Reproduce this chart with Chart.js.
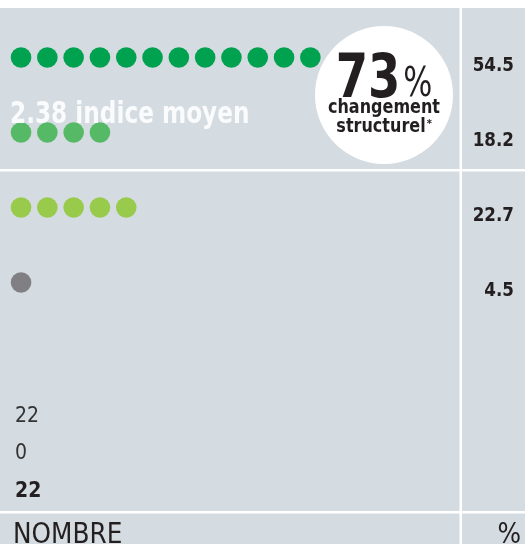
<!DOCTYPE html>
<html>
<head>
<meta charset="utf-8">
<script src="https://cdn.jsdelivr.net/npm/chart.js"></script>
<style>
  html, body { margin: 0; padding: 0; background: #fff; }
  #wrap { position: relative; width: 525px; height: 544px; }
</style>
</head>
<body>
<div id="wrap"><canvas id="chart"></canvas></div>
<script>
// rows of the dot chart, top to bottom
const rowIds = ['row1', 'row2', 'row3', 'row4'];
const counts = [12, 4, 5, 1];
const percents = ['54.5', '18.2', '22.7', '4.5'];
const dotColors = ['#00a14f', '#55b966', '#98ca4b', '#808084'];
const totals = ['22', '0', '22'];
const averageLabel = '2.38 indice moyen';
const bigValue = '73';

const GRAY = '#d4dbe1';
const INK = '#231f20';
const FONT = "'DejaVu Sans Condensed', 'DejaVu Sans', sans-serif";

// draws text squeezed horizontally (the original uses a narrower face)
function text(ctx, str, x, y, spec, sx, align) {
  ctx.save();
  ctx.font = spec + ' ' + FONT;
  ctx.textAlign = align || 'left';
  ctx.translate(x, y);
  ctx.scale(sx, 1);
  ctx.fillText(str, 0, 0);
  const w = ctx.measureText(str).width * sx;
  ctx.restore();
  return w;
}
function width(ctx, str, spec, sx) {
  ctx.save();
  ctx.font = spec + ' ' + FONT;
  const w = ctx.measureText(str).width * sx;
  ctx.restore();
  return w;
}

const datasets = rowIds.map((id, r) => ({
  label: id,
  data: Array.from({ length: counts[r] }, (_, i) => ({ x: i + 1, y: r })),
  backgroundColor: dotColors[r],
  borderWidth: 0,
  pointRadius: 10.3,
  pointHoverRadius: 10.3
}));

const panel = {
  id: 'panel',
  beforeDraw(chart) {
    const { ctx, chartArea: a, width, height } = chart;
    const y = chart.scales.y;
    ctx.save();
    ctx.fillStyle = '#fff';
    ctx.fillRect(0, 0, width, height);
    ctx.fillStyle = GRAY;
    ctx.fillRect(0, a.top, width, height - a.top);
    ctx.fillStyle = '#fff';
    const mid = Math.round(y.getPixelForValue(1.5));
    ctx.fillRect(0, mid - 1, width, 2.5);
    ctx.fillRect(0, a.bottom - 1, width, 2.5);
    ctx.fillRect(a.right - 0.5, a.top, 2.5, height - a.top);
    ctx.restore();
  },
  afterDatasetsDraw(chart) {
    const { ctx, height } = chart;
    const W = chart.width;
    const x = chart.scales.x, y = chart.scales.y;
    ctx.save();
    ctx.textBaseline = 'alphabetic';

    // average label over the dots
    ctx.fillStyle = 'rgba(255,255,255,0.88)';
    text(ctx, averageLabel, 10, 123, 'bold 30px', 0.86);

    // white circle with big number
    const cx = x.getPixelForValue(14.8), cy = y.getPixelForValue(0.5);
    ctx.fillStyle = '#fff';
    ctx.beginPath();
    ctx.arc(cx, cy, 69, 0, Math.PI * 2);
    ctx.fill();

    ctx.fillStyle = INK;
    const wNum = width(ctx, bigValue, 'bold 60px', 0.86);
    const wPct = width(ctx, '%', '40px', 0.85);
    const start = cx - (wNum + wPct + 3) / 2;
    text(ctx, bigValue, start, cy + 2, 'bold 60px', 0.86);
    text(ctx, '%', start + wNum + 3, cy + 1, '40px', 0.85);

    text(ctx, 'changement', cx, cy + 18, 'bold 20px', 0.89, 'center');
    const ws = text(ctx, 'structurel', cx - 3, cy + 37, 'bold 20px', 0.89, 'center');
    text(ctx, '*', cx - 3 + ws / 2 + 1, cy + 32, 'bold 11px', 1);

    // percentages in right column
    percents.forEach((p, r) => {
      text(ctx, p, W - 11, y.getPixelForValue(r) + 13, 'bold 20px', 0.93, 'right');
    });

    // totals
    ctx.fillStyle = '#333';
    text(ctx, totals[0], 15, 422, '21px', 1);
    text(ctx, totals[1], 15, 459, '21px', 1);
    ctx.fillStyle = INK;
    text(ctx, totals[2], 15, 497, 'bold 21px', 1);

    // footer
    text(ctx, 'NOMBRE', 13, height - 1, '29px', 0.95);
    text(ctx, '%', W - 4, height - 1, '29px', 0.95, 'right');
    ctx.restore();
  }
};

new Chart(document.getElementById('chart'), {
  type: 'scatter',
  data: { datasets },
  options: {
    responsive: true,
    maintainAspectRatio: false,
    animation: false,
    events: [],
    layout: { autoPadding: false, padding: { left: 0, right: 65, top: 8, bottom: 32 } },
    plugins: { legend: { display: false }, tooltip: { enabled: false } },
    scales: {
      x: { type: 'linear', display: false, min: 0.2, max: 17.69 },
      y: { type: 'linear', display: false, reverse: true, min: -0.66, max: 6.06 }
    }
  },
  plugins: [panel]
});
</script>
</body>
</html>
